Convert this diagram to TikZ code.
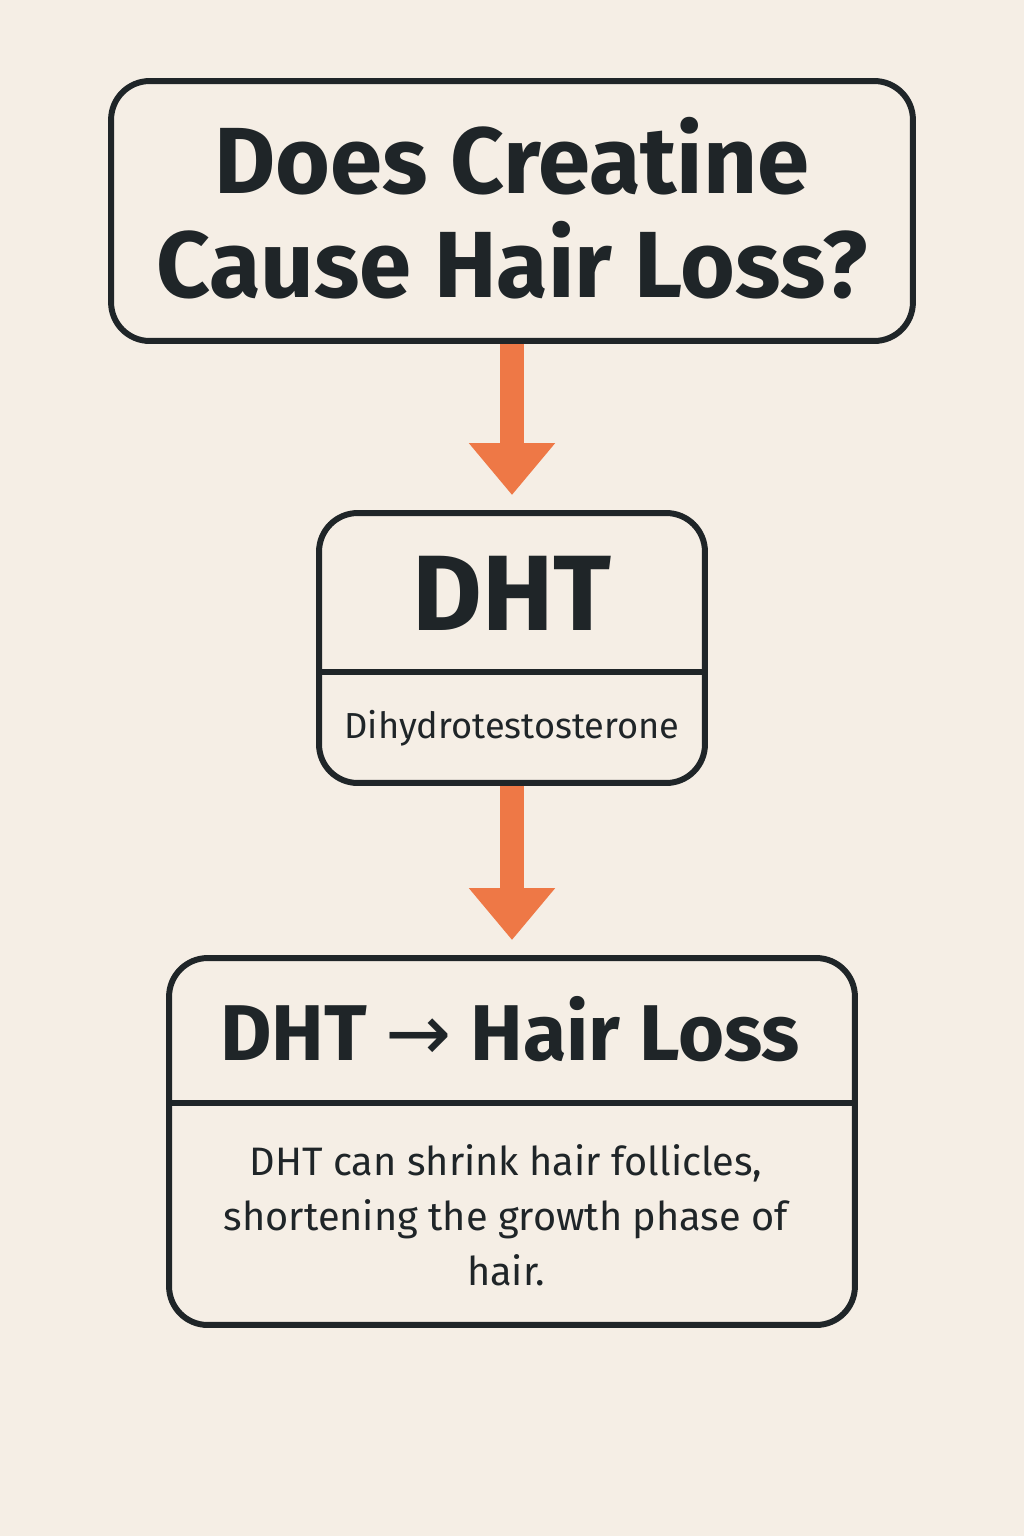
\documentclass[tikz,border=0pt]{standalone}
\usepackage{fontspec}
\setmainfont{Fira Sans}
\newfontfamily\arrowfont{DejaVu Sans}
\usetikzlibrary{
arrows.meta,
positioning,
}
\definecolor{paper}{HTML}{F5EEE5}
\definecolor{ink}{HTML}{1F2528}
\definecolor{flow}{HTML}{EE7846}
\tikzset{
outer sep=auto,
every node/.style={align=center, text=ink},
card/.style={rectangle, draw=ink, line width=3.4pt, rounded corners=22pt, inner sep=0pt},
rule/.style={draw=ink, line width=3.4pt},
link/.style={draw=flow, line width=14.2pt, -{Triangle[length=1.04cm, width=1.66cm]}, shorten >=0.3cm},
}

\begin{document}
\begin{tikzpicture}[x=0.02cm, y=-0.02cm]
\fill[paper] (0,0) rectangle (1024,1536);
\node (q) [card, minimum width=16.04cm, minimum height=5.2cm] at (512,211) {};
\node (qtext) [font=\fontsize{53.5}{59.2}\selectfont\bfseries] at (512,208)
    {Does Creatine\\Cause Hair Loss?};
\node (dht) [card, minimum width=7.72cm, minimum height=5.4cm] at (512,648) {};
\node (dhtname) [anchor=base, font=\fontsize{61}{64}\selectfont\bfseries] at (512,630) {DHT};
\node (dhtfull) [anchor=base, font=\fontsize{20.6}{24}\selectfont] at (512,738) {Dihydrotestosterone};
\node (loss) [card, minimum width=13.72cm, minimum height=7.34cm] at (512,1141.5) {};
\node (losshead) [anchor=base, font=\fontsize{45}{48}\selectfont\bfseries] at (510,1060)
    {DHT {\arrowfont\mdseries→} Hair Loss};
\node (lossbody) [font=\fontsize{22.6}{31.3}\selectfont] at (506,1215)
    {DHT can shrink hair follicles,\\shortening the growth phase of\\hair.};
% dividers
\draw [rule] (dht.west |- 0,672) -- (dht.east |- 0,672);
\draw [rule] (loss.west |- 0,1103) -- (loss.east |- 0,1103);
% flow
\draw [link] (q.south) -- (dht.north);
\draw [link] (dht.south) -- (loss.north);
\end{tikzpicture}
\end{document}
